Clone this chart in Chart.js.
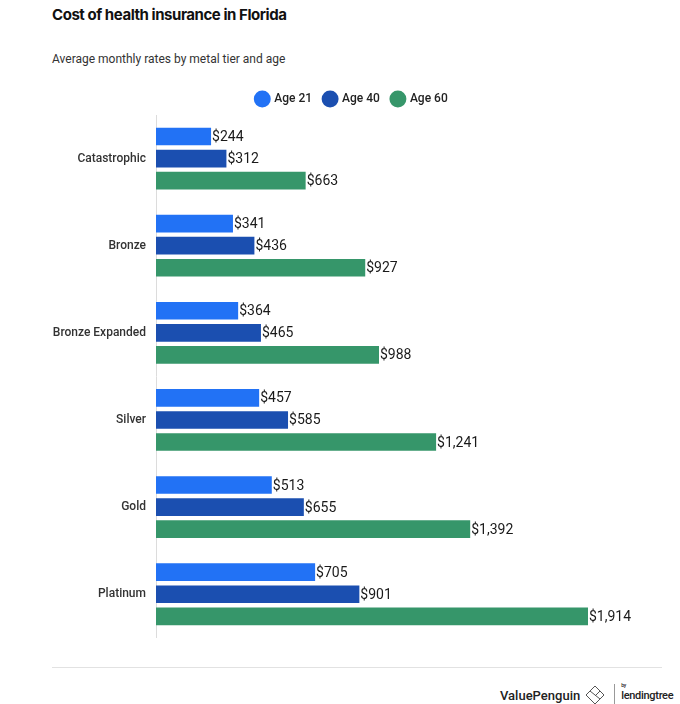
<!DOCTYPE html>
<html>
<head>
<meta charset="utf-8">
<script src="https://cdn.jsdelivr.net/npm/chart.js@4"></script>
<style>
  body { margin: 0; background: #fff; font-family: Roboto, sans-serif; }
  #wrap { position: relative; width: 680px; height: 704px; }
  .title { position: absolute; left: 52px; top: 5px; font: 700 15px Inter, Roboto, sans-serif; color: #111; letter-spacing: -0.45px; }
  .sub { position: absolute; left: 52px; top: 52px; font: 400 12px Roboto, sans-serif; color: #333; }
  #box { position: absolute; left: 0; top: 81px; width: 680px; height: 574px; }
  .rule { position: absolute; left: 52px; top: 667px; width: 610px; height: 1px; background: #e2e2e2; }
  .foot { position: absolute; left: 500px; top: 684px; font: 500 13px Roboto, sans-serif; color: #222; display: flex; align-items: center; }
  .sep { width: 1px; height: 22px; background: #999; margin: 0 6px 0 8px; }
  .lt { font: 500 11px Roboto, sans-serif; color: #222; letter-spacing: -0.3px; position: relative; }
  .lt small { position: absolute; left: 0; top: -7px; font-size: 5px; }
</style>
</head>
<body>
<div id="wrap">
  <div class="title">Cost of health insurance in Florida</div>
  <div class="sub">Average monthly rates by metal tier and age</div>
  <div id="box"><canvas id="grafico" width="680" height="574"></canvas></div>
  <div class="rule"></div>
  <div class="foot">ValuePenguin
    <svg width="22" height="20" viewBox="0 0 22 20" style="margin-left:4px">
      <path d="M11 1 L20 10 L11 19 L2 10 Z M6 6 L16 14 M16 6 L11 11" fill="none" stroke="#555" stroke-width="1"/>
    </svg>
    <span class="sep"></span>
    <span class="lt"><small>by</small>lendingtree</span>
  </div>
</div>
<script>
const categorias = ['Catastrophic', 'Bronze', 'Bronze Expanded', 'Silver', 'Gold', 'Platinum'];
const idade21 = [244, 341, 364, 457, 513, 705];
const idade40 = [312, 436, 465, 585, 655, 901];
const idade60 = [663, 927, 988, 1241, 1392, 1914];

// rótulos com valores no fim das barras
const rotulos = {
  id: 'rotulos',
  afterDatasetsDraw(chart) {
    const c = chart.ctx;
    c.save();
    c.font = '400 14px Roboto, sans-serif';
    c.fillStyle = '#1a1a1a';
    c.textBaseline = 'middle';
    chart.data.datasets.forEach((ds, i) => {
      chart.getDatasetMeta(i).data.forEach((bar, j) => {
        c.fillText('$' + ds.data[j].toLocaleString('en-US'), bar.x + 1, bar.y + 1);
      });
    });
    c.restore();
  }
};

const config = {
  type: 'bar',
  data: {
    labels: categorias,
    datasets: [
      { label: 'Age 21', data: idade21, backgroundColor: '#2272f5' },
      { label: 'Age 40', data: idade40, backgroundColor: '#1b4fb0' },
      { label: 'Age 60', data: idade60, backgroundColor: '#36966a' }
    ]
  },
  options: {
    indexAxis: 'y',
    responsive: false,
    animation: false,
    categoryPercentage: 0.76,
    barPercentage: 0.8,
    layout: { padding: { left: 44, right: 20, top: 0, bottom: 0 } },
    plugins: {
      tooltip: { enabled: false },
      legend: {
        position: 'top',
        labels: {
          usePointStyle: true,
          pointStyle: 'circle',
          boxWidth: 14,
          boxHeight: 14,
          padding: 12,
          color: '#222',
          font: { family: 'Roboto', size: 12, weight: '500' }
        }
      }
    },
    scales: {
      x: {
        min: 0,
        max: 2233,
        display: false
      },
      y: {
        grid: { display: false, drawTicks: false },
        border: { color: '#dcdcdc' },
        ticks: { color: '#333', padding: 10, font: { family: 'Roboto', size: 12, weight: '500' } },
        afterFit(scale) { scale.width = 112; }
      }
    }
  },
  plugins: [rotulos]
};

const ctx = document.getElementById('grafico').getContext('2d');
const grafico = new Chart(ctx, config);
</script>
</body>
</html>
